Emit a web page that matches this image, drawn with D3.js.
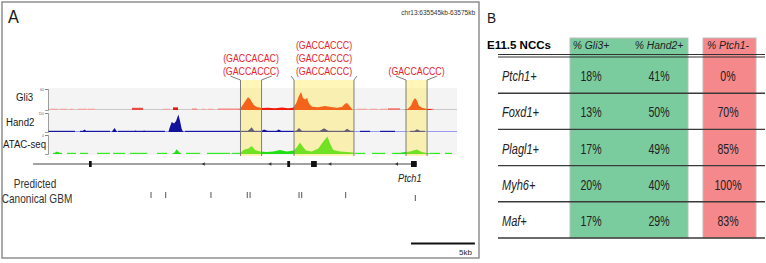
<!DOCTYPE html>
<html>
<head>
<meta charset="utf-8">
<script src="https://cdn.jsdelivr.net/npm/d3@7"></script>
<style>
  html, body { margin: 0; padding: 0; background: #fff; }
  svg { display: block; font-family: "Liberation Sans", Arial, sans-serif; }
</style>
</head>
<body>
<div id="chart"></div>
<script>
// ---------- Panel A data (positions in kb from the window start) ----------
const windowKb = [0, 32];
const locusText = "chr13:635545kb-63575kb";

// signal traces: [kb, value], value on a 0-100 track scale
const gli3Signal = [
  [14.98, 0], [15.02, 5], [15.26, 25], [15.49, 45], [15.65, 58], [15.81, 50], [15.96, 35],
  [16.12, 22], [16.35, 14], [16.74, 9], [17.21, 10], [17.76, 8], [18.31, 11], [18.78, 8],
  [19.17, 10], [19.41, 30], [19.64, 65], [19.80, 82], [19.95, 55], [20.11, 48], [20.27, 55],
  [20.42, 30], [20.66, 15], [21.13, 12], [21.67, 18], [22.14, 14], [22.61, 10], [23.0, 14],
  [23.24, 28], [23.40, 32], [23.55, 22], [23.79, 5], [23.87, 0],
  [27.86, 0], [28.17, 6], [28.40, 20], [28.56, 42], [28.72, 54], [28.87, 42], [29.03, 18],
  [29.26, 10], [29.58, 6], [29.89, 4], [30.2, 0]
];
const hand2Signal = [
  [2.64, 0], [2.85, 12], [3.08, 0],
  [4.98, 0], [5.2, 20], [5.42, 0],
  [6.65, 0], [6.85, 8], [7.04, 0],
  [7.33, 0], [7.52, 8], [7.72, 0],
  [9.42, 0], [9.51, 20], [9.68, 50], [9.86, 42], [10.02, 55], [10.2, 88], [10.33, 55],
  [10.46, 15], [10.56, 3], [10.72, 0],
  [15.55, 0], [15.94, 24], [16.2, 0],
  [16.6, 0], [16.9, 12], [17.4, 0],
  [17.76, 0], [18.05, 13], [18.39, 0],
  [19.33, 0], [19.64, 20], [19.95, 0],
  [21.13, 0], [21.6, 19], [22.07, 0],
  [23.08, 0], [23.4, 16], [23.79, 0],
  [28.56, 0], [28.87, 14], [29.26, 0]
];
const atacSignal = [
  [0.39, 0], [0.7, 12], [1.1, 0],
  [9.68, 0], [9.9, 8], [10.07, 24], [10.25, 10], [10.46, 0],
  [15.0, 0], [15.28, 20], [15.67, 28], [15.94, 40], [16.2, 20], [16.59, 13], [17.11, 10],
  [17.63, 13], [18.15, 20], [18.68, 12], [19.25, 17], [19.51, 37], [19.72, 58], [19.93, 37],
  [20.19, 17], [20.63, 12], [21.15, 28], [21.54, 62], [21.86, 87], [22.07, 53], [22.32, 20],
  [22.85, 12], [23.37, 10], [23.89, 7], [23.97, 0],
  [27.28, 0], [27.67, 8], [28.33, 12], [28.85, 23], [29.24, 10], [29.76, 4], [30.02, 0]
];

// low-level coverage dashes: [startKb, endKb, value]
const gli3Noise = [
  [0.16, 0.78, 6], [0.94, 1.49, 6], [1.72, 1.96, 6], [2.35, 3.05, 6], [3.13, 3.68, 6],
  [6.57, 7.43, 10], [9.0, 9.55, 6], [9.78, 10.17, 12], [11.27, 11.66, 7], [12.05, 12.28, 6],
  [12.52, 12.91, 6], [13.3, 15.02, 7], [24.18, 24.96, 6], [25.2, 25.74, 6], [25.98, 26.53, 6],
  [26.6, 27.54, 8], [29.89, 30.2, 6]
];
const hand2Noise = [
  [0, 2.11, 6], [2.5, 4.85, 6], [5.48, 9.15, 6], [10.72, 15.02, 6], [15.02, 23.94, 6],
  [24.41, 25.2, 6], [25.98, 27.15, 6], [28.33, 29.5, 6]
];
const atacNoise = [
  [0.39, 1.1, 6], [1.49, 2.19, 6], [2.5, 3.13, 6], [3.83, 4.85, 6], [5.09, 6.03, 6],
  [6.42, 7.75, 6], [8.53, 9.31, 6], [10.8, 11.89, 6], [12.44, 14.24, 6], [14.4, 15.02, 6],
  [24.02, 24.8, 6], [25.35, 26.37, 6], [26.92, 27.54, 6], [29.89, 30.67, 6], [31.06, 31.61, 6]
];

// highlighted GBM regions and their motifs
const regionStart = [15.06, 19.25, 28.01];
const regionEnd = [16.71, 23.94, 29.66];
const regionMotifs = [
  ["GACCACAC", "GACCACCC"],
  ["GACCACCC", "GACCACCC", "GACCACCC"],
  ["GACCACCC"]
];

// Ptch1 gene model
const geneSpan = [-1.17, 28.87];
const exonStart = [3.21, 18.72, 20.58, 28.4];
const exonEnd = [3.42, 18.94, 21.03, 28.85];
const strandArrows = [12.03, 17.24, 21.93, 27.15];
const geneName = "Ptch1";

// predicted canonical GBM sites
const gbmSites = [8.06, 9.21, 12.75, 15.59, 15.81, 19.64, 19.85, 23.29, 28.74];
const gbmLow = [false, false, false, false, false, false, false, false, true];
const scaleBarKb = [28.4, 33.4];

// ---------- Panel B data ----------
const rowLabels = ["Ptch1+", "Foxd1+", "Plagl1+", "Myh6+", "Maf+"];
const colHeaders = ["% Gli3+", "% Hand2+", "% Ptch1-"];
const gli3Pct = [18, 13, 17, 20, 17];
const hand2Pct = [41, 50, 49, 40, 29];
const ptch1NegPct = [0, 70, 85, 100, 83];

// ---------- drawing ----------
const W = 766, H = 263;
const svg = d3.select("#chart").append("svg").attr("width", W).attr("height", H);

// text with a slight horizontal squeeze, like the source figure
function txt(g, s, px, py, size, sx, o = {}) {
  return g.append("text")
    .attr("transform", `translate(${px},${py}) scale(${sx},1)`)
    .attr("text-anchor", o.anchor || "start")
    .attr("fill", o.fill || "#1a1a1a")
    .style("font-size", size + "px")
    .style("font-style", o.italic ? "italic" : null)
    .style("font-weight", o.bold ? "bold" : null)
    .text(s);
}

// ===== Panel A =====
const A = svg.append("g");
A.append("rect").attr("x", 2).attr("y", 2).attr("width", 477).attr("height", 256)
  .attr("fill", "none").attr("stroke", "#8f8f8f").attr("stroke-width", 1.5);
txt(A, "A", 8, 23, 18.5, 0.88);
txt(A, locusText, 475, 15, 6.5, 1, { anchor: "end", fill: "#333" });

const x = d3.scaleLinear().domain(windowKb).range([48, 457]);

const tracks = [
  { name: "Gli3", top: 88, h: 22, signal: gli3Signal, noise: gli3Noise, fill: "#f01a0a",
    noiseColor: d3.scaleLinear().domain([6, 12]).range(["#f3a8a4", "#e81a10"]).clamp(true),
    base: "#c8c8c8", lx: 16, ly: 101, tick: "60" },
  { name: "Hand2", top: 112, h: 20, signal: hand2Signal, noise: hand2Noise, fill: "#12129c",
    noiseColor: () => "#1616a8", base: "#9a9af2", lx: 6, ly: 126, tick: "110" },
  { name: "ATAC-seq", top: 134, h: 20, signal: atacSignal, noise: atacNoise, fill: "#22e016",
    noiseColor: () => "#33ee22", base: null, lx: 3, ly: 148, tick: "4" }
];

A.append("rect").attr("x", x(windowKb[0])).attr("y", 88)
  .attr("width", x(windowKb[1]) - x(windowKb[0])).attr("height", 67).attr("fill", "#f4f4f4");

tracks.forEach(t => {
  const y = d3.scaleLinear().domain([0, 100]).range([t.top + t.h, t.top]);
  const g = A.append("g");
  if (t.base) {
    g.append("line").attr("x1", x(windowKb[0])).attr("x2", x(windowKb[1]))
      .attr("y1", y(0) - 0.5).attr("y2", y(0) - 0.5).attr("stroke", t.base).attr("stroke-width", 1);
  }
  g.selectAll("rect.noise").data(t.noise).join("rect")
    .attr("x", d => x(d[0])).attr("width", d => x(d[1]) - x(d[0]))
    .attr("y", d => y(d[2])).attr("height", d => y(0) - y(d[2]))
    .attr("fill", d => t.noiseColor(d[2]));
  g.append("path").datum(t.signal)
    .attr("d", d3.area().x(d => x(d[0])).y0(y(0)).y1(d => y(d[1])))
    .attr("fill", t.fill);
  // small scale axis
  const ax = g.append("g").attr("transform", `translate(${x(windowKb[0])},0)`)
    .call(d3.axisLeft(d3.scaleLinear().domain([0, 100]).range([t.top + t.h, t.top + 1]))
      .tickValues([100]).tickFormat(() => t.tick).tickSize(3).tickPadding(1));
  ax.selectAll("path, line").attr("stroke", "#777").attr("stroke-width", 0.7);
  ax.selectAll("text").style("font-size", "3.5px").attr("fill", "#666");
  txt(A, t.name, t.lx, t.ly, 11.5, 0.84);
});

// highlighted regions (translucent yellow on top of tracks)
const hlTop = 80, hlBottom = 156;
const regions = regionStart.map((s, i) => ({ s, e: regionEnd[i], motifs: regionMotifs[i] }));
const hl = A.append("g");
hl.selectAll("rect").data(regions).join("rect")
  .attr("x", d => x(d.s)).attr("width", d => x(d.e) - x(d.s))
  .attr("y", hlTop).attr("height", hlBottom - hlTop)
  .attr("fill", "#ffe63a").attr("fill-opacity", 0.36);
regions.forEach(r => {
  const x0 = x(r.s), x1 = x(r.e), cx = (x0 + x1) / 2;
  const half = 27.5;
  const dl = Math.max(3, (x0 - (cx - half)) * 0.6);
  const dr = Math.max(3, ((cx + half) - x1) * 0.6);
  hl.append("path")
    .attr("d", `M${x0 - dl},76 L${x0},${hlTop} L${x0},${hlBottom} M${x1 + dr},76 L${x1},${hlTop} L${x1},${hlBottom}`)
    .attr("fill", "none").attr("stroke", "#7d7d7d").attr("stroke-width", 1);
  const n = r.motifs.length;
  r.motifs.forEach((m, k) => {
    txt(hl, `(${m})`, cx, 75 - (n - 1 - k) * 13, 11, 0.8, { anchor: "middle", fill: "#e8222b" });
  });
});

// gene model
const geneY = 164;
const gene = A.append("g");
gene.append("line").attr("x1", x(geneSpan[0])).attr("x2", x(geneSpan[1]))
  .attr("y1", geneY).attr("y2", geneY).attr("stroke", "#444").attr("stroke-width", 1);
gene.selectAll("rect").data(exonStart).join("rect")
  .attr("x", (d) => x(d)).attr("width", (d, i) => x(exonEnd[i]) - x(d))
  .attr("y", geneY - 3).attr("height", 6).attr("fill", "#111");
gene.selectAll("path").data(strandArrows).join("path")
  .attr("d", d => `M${x(d)},${geneY} l3,-1.8 l0,3.6 z`).attr("fill", "#333");
txt(A, geneName, x(exonStart[3]) - 13, 182, 10.5, 0.88, { italic: true, fill: "#222" });

// predicted canonical GBM
txt(A, "Predicted", 35, 188, 12, 0.84, { anchor: "middle", fill: "#333" });
txt(A, "Canonical GBM", 37, 203, 12, 0.84, { anchor: "middle", fill: "#333" });
A.selectAll("line.gbm").data(gbmSites).join("line").attr("class", "gbm")
  .attr("x1", d => x(d)).attr("x2", d => x(d))
  .attr("y1", (d, i) => gbmLow[i] ? 195 : 192).attr("y2", (d, i) => gbmLow[i] ? 201 : 198)
  .attr("stroke", "#555").attr("stroke-width", 1);

// scale bar
A.append("line").attr("x1", x(scaleBarKb[0])).attr("x2", x(scaleBarKb[1]))
  .attr("y1", 243.5).attr("y2", 243.5).attr("stroke", "#111").attr("stroke-width", 2);
txt(A, `${scaleBarKb[1] - scaleBarKb[0]}kb`, 472, 255, 8, 1, { anchor: "end", fill: "#222" });

// ===== Panel B =====
const B = svg.append("g");
txt(B, "B", 487, 23, 15.5, 0.88);
txt(B, "E11.5 NCCs", 487, 49, 11.5, 1, { bold: true, fill: "#000" });

const yRow = d3.scaleBand().domain(rowLabels).range([57, 238]);
const xCol = d3.scaleOrdinal().domain(colHeaders).range([591, 659, 728]);
const colValues = [gli3Pct, hand2Pct, ptch1NegPct];

B.append("rect").attr("x", 570).attr("y", 38).attr("width", 118).attr("height", 200)
  .attr("fill", "#7acc9f").attr("stroke", "#bdbdbd").attr("stroke-width", 1);
B.append("rect").attr("x", 703).attr("y", 38).attr("width", 53).attr("height", 200)
  .attr("fill", "#f4888b").attr("stroke", "#bdbdbd").attr("stroke-width", 1);

colHeaders.forEach(h => txt(B, h, xCol(h), 49, 11.5, 0.9, { anchor: "middle", italic: true, fill: "#222" }));

// header double rule
[54.5, 57].forEach(yy => B.append("line").attr("x1", 498).attr("x2", 765)
  .attr("y1", yy).attr("y2", yy).attr("stroke", "#333").attr("stroke-width", 1));

rowLabels.forEach((r, i) => {
  const yc = yRow(r) + yRow.bandwidth() / 2;
  txt(B, r, 502, yc + 6, 14.5, 0.76, { italic: true, fill: "#222" });
  colHeaders.forEach((h, j) => {
    txt(B, colValues[j][i] + "%", xCol(h), yc + 6, 14.5, 0.73, { anchor: "middle", fill: "#222" });
  });
  const yb = yRow(r) + yRow.bandwidth();
  B.append("line").attr("x1", 498).attr("x2", 765).attr("y1", yb).attr("y2", yb)
    .attr("stroke", "#3a3a3a").attr("stroke-width", 1.4);
});
</script>
</body>
</html>
